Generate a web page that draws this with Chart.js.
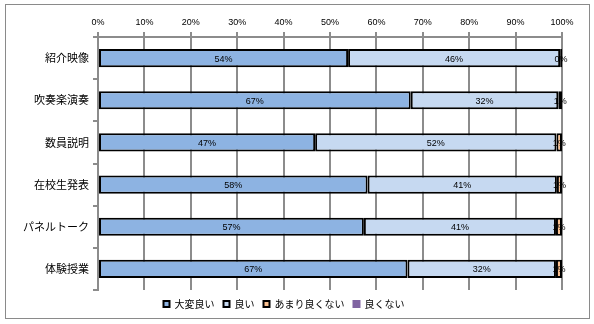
<!DOCTYPE html>
<html>
<head>
<meta charset="utf-8">
<script src="https://cdn.jsdelivr.net/npm/chart.js@4/dist/chart.umd.min.js"></script>
<style>
html,body{margin:0;padding:0;background:#fff;}
#wrap{width:594px;height:324px;position:relative;}
</style>
</head>
<body>
<div id="wrap"><canvas id="c" width="594" height="324"></canvas></div>
<script>
const categories = ['紹介映像', '吹奏楽演奏', '数員説明', '在校生発表', 'パネルトーク', '体験授業'];
const seriesNames = ['大変良い', '良い', 'あまり良くない', '良くない'];
const veryGood = [53.9, 67.4, 46.8, 58.1, 57.3, 66.7];
const good = [45.7, 31.8, 52.0, 40.8, 41.4, 32.0];
const notSoGood = [0.4, 0.8, 1.2, 1.1, 1.3, 1.3];
const bad = [0, 0, 0, 0, 0, 0];
const xTicks = [0, 10, 20, 30, 40, 50, 60, 70, 80, 90, 100];

const colors = ['#8DB3E2', '#C6D9F1', '#FAC090', '#8064A2'];
const seriesValues = [veryGood, good, notSoGood, bad];

const labelFont = '9px "Liberation Sans", Arial, sans-serif';

const frame = {
  id: 'frame',
  beforeDraw(chart) {
    const c = chart.ctx;
    c.save();
    c.fillStyle = '#fff';
    c.fillRect(0, 0, chart.width, chart.height);
    c.restore();
  },
  afterDraw(chart) {
    const c = chart.ctx;
    c.save();
    c.strokeStyle = '#8a8a8a';
    c.lineWidth = 1;
    c.strokeRect(5.5, 4.5, 584, 314);
    c.restore();
  }
};

const dataLabels = {
  id: 'dataLabels',
  afterDatasetsDraw(chart) {
    const c = chart.ctx;
    c.save();
    c.font = labelFont;
    c.fillStyle = '#000';
    c.textAlign = 'center';
    c.textBaseline = 'middle';
    chart.data.datasets.forEach((ds, i) => {
      if (i === 3) return;
      const meta = chart.getDatasetMeta(i);
      meta.data.forEach((bar, j) => {
        const v = ds.data[j];
        const cx = (bar.x + bar.base) / 2;
        c.fillText(Math.round(v) + '%', cx, bar.y + 1);
      });
    });
    c.restore();
  }
};

new Chart(document.getElementById('c'), {
  type: 'bar',
  data: {
    labels: categories,
    datasets: seriesNames.map((name, i) => ({
      label: name,
      data: seriesValues[i],
      backgroundColor: colors[i],
      borderColor: i === 3 ? colors[i] : '#000',
      borderWidth: 2,
      borderSkipped: false,
      barPercentage: 0.43,
      categoryPercentage: 1
    }))
  },
  options: {
    indexAxis: 'y',
    responsive: false,
    animation: false,
    devicePixelRatio: 1,
    layout: { padding: { left: 6, right: 32, top: 0, bottom: 5 } },
    scales: {
      x: {
        position: 'top',
        stacked: true,
        min: 0,
        max: 100,
        afterBuildTicks(scale) { scale.ticks = xTicks.map(v => ({ value: v })); },
        afterFit(scale) { scale.height = 37; },
        ticks: {
          callback: v => v + '%',
          font: { family: '"Liberation Sans", Arial, sans-serif', size: 9 },
          color: '#000',
          padding: 4,
          maxRotation: 0,
          autoSkip: false
        },
        grid: { color: '#8c8c8c', lineWidth: 2, tickLength: 5, drawTicks: true },
        border: { color: '#8c8c8c', width: 2 }
      },
      y: {
        stacked: true,
        afterFit(scale) { scale.width = 92; },
        ticks: {
          font: { family: '"Noto Sans CJK JP", sans-serif', size: 11 },
          color: '#000',
          padding: 4
        },
        grid: { color: '#8c8c8c', lineWidth: 2, drawOnChartArea: false, tickLength: 5, offset: true },
        border: { color: '#8c8c8c', width: 2 }
      }
    },
    plugins: {
      legend: {
        position: 'bottom',
        labels: {
          boxWidth: 6,
          boxHeight: 6,
          padding: 9,
          color: '#000',
          font: { family: '"Noto Sans CJK JP", sans-serif', size: 10 }
        }
      },
      tooltip: { enabled: false }
    }
  },
  plugins: [frame, dataLabels]
});
</script>
</body>
</html>
